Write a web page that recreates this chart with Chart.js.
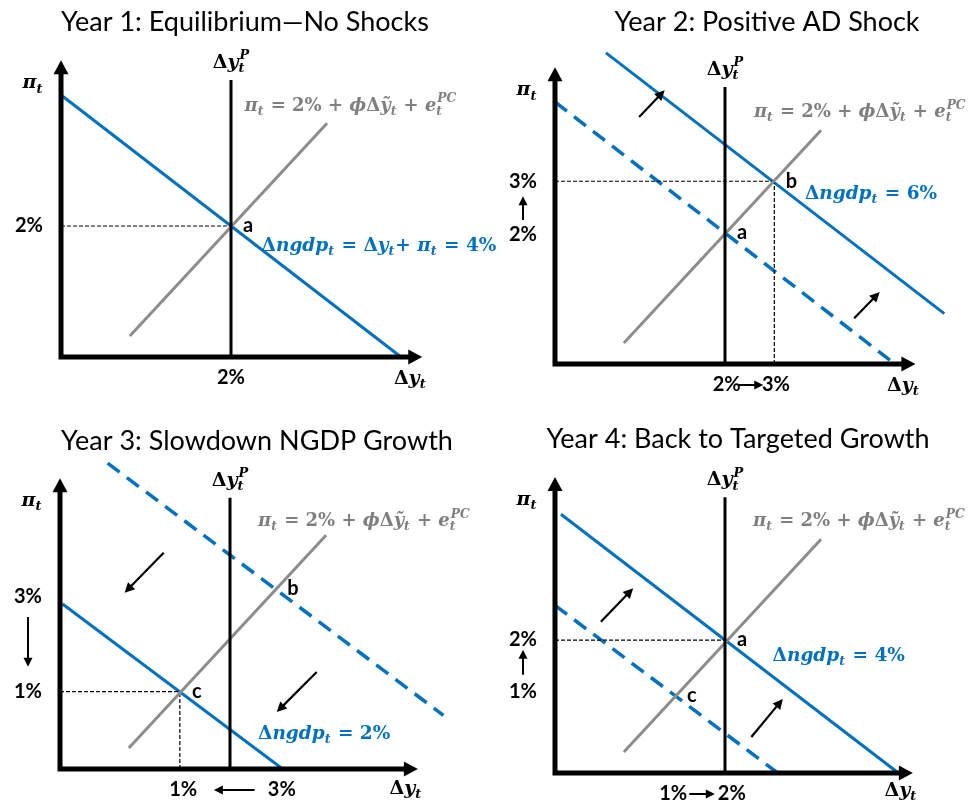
<!DOCTYPE html>
<html>
<head>
<meta charset="utf-8">
<script src="https://cdn.jsdelivr.net/npm/chart.js@4.4.0/dist/chart.umd.min.js"></script>
<style>
  body { margin: 0; background: #fff; }
  #wrap { position: relative; width: 971px; height: 803px; overflow: hidden; }
  canvas { position: absolute; left: 0; top: 0; }
</style>
</head>
<body>
<div id="wrap">
  <canvas id="c1" width="971" height="803"></canvas>
  <canvas id="c2" width="971" height="803"></canvas>
  <canvas id="c3" width="971" height="803"></canvas>
  <canvas id="c4" width="971" height="803"></canvas>
</div>
<script>
// ---- data (x = output growth, y = inflation, in diagram units) ----
const potentialGrowth = 2;
const pcCurve = [[0.81, 0.32], [3.13, 3.57]];
const adYear1 = [[0, 4], [4, 0]];
const adYear2 = [[0.6, 4.75], [4.58, 0.77]];
const adYear2Old = [[0, 4], [3.94, 0.06]];
const adYear3 = [[0.03, 2.52], [2.62, 0]];
const adYear3Old = [[0.56, 4.67], [4.51, 0.82]];
const adYear4 = [[0.07, 3.95], [4.04, 0]];
const adYear4Old = [[0, 2.56], [2.62, 0]];

// equilibrium points: label, x, y
const eqYear1 = [['a', 2, 2]];
const eqYear2 = [['a', 2, 2], ['b', 2.58, 2.79]];
const eqYear3 = [['b', 2.54, 2.75], ['c', 1.41, 1.18]];
const eqYear4 = [['a', 2, 2.03], ['c', 1.41, 1.18]];

// shift arrows: x1, y1, x2, y2
const shiftYear2 = [[0.99, 3.77, 1.29, 4.18], [3.52, 0.70, 3.82, 1.10]];
const shiftYear3 = [[1.22, 3.30, 0.76, 2.69], [3.02, 1.48, 2.55, 0.87]];
const shiftYear4 = [[0.54, 2.31, 0.92, 2.82], [2.31, 0.55, 2.68, 1.13]];

// tick labels: value, text
const yTicksYear1 = [[2, '2%']];
const xTicksYear1 = [[2, '2%']];
const yTicksYear2 = [[2.79, '3%'], [1.98, '2%']];
const xTicksYear2 = [[2.02, '2%'], [2.6, '3%']];
const yTicksYear3 = [[2.63, '3%'], [1.18, '1%']];
const xTicksYear3 = [[1.45, '1%'], [2.61, '3%']];
const yTicksYear4 = [[2.03, '2%'], [1.24, '1%']];
const xTicksYear4 = [[1.39, '1%'], [2.08, '2%']];

const titles = ['Year 1: Equilibrium\u2014No Shocks', 'Year 2: Positive AD Shock',
                'Year 3: Slowdown NGDP Growth', 'Year 4: Back to Targeted Growth'];

// math labels as [text, kind]: r roman, i italic, s subscript, x sub|sup stacked
const pcLabel = [['\u03c0', 'i'], ['t', 's'], [' = 2% + ', 'r'], ['\u03d5', 'i'], ['\u0394', 'r'], ['\u1ef9', 'i'], ['t', 's'], [' + ', 'r'], ['e', 'i'], ['t|PC', 'x']];
const potLabel = [['\u0394', 'r'], ['y', 'i'], ['t|P', 'x']];
const piLabel = [['\u03c0', 'i'], ['t', 's']];
const dyLabel = [['\u0394', 'r'], ['y', 'i'], ['t', 's']];
const ngdpLabel1 = [['\u0394', 'r'], ['ngdp', 'i'], ['t', 's'], [' = ', 'r'], ['\u0394', 'r'], ['y', 'i'], ['t', 's'], ['+ ', 'r'], ['\u03c0', 'i'], ['t', 's'], [' = 4%', 'r']];
const ngdpLabel2 = [['\u0394', 'r'], ['ngdp', 'i'], ['t', 's'], [' = 6%', 'r']];
const ngdpLabel3 = [['\u0394', 'r'], ['ngdp', 'i'], ['t', 's'], [' = 2%', 'r']];
const ngdpLabel4 = [['\u0394', 'r'], ['ngdp', 'i'], ['t', 's'], [' = 4%', 'r']];

// ---- styling ----
const BLUE = '#0070C0';
const GRAY = '#8c8c8c';
const GRAY_TEXT = '#7f7f7f';
const MATH_FONT = '"DejaVu Serif", "Liberation Serif", serif';
const SANS_FONT = 'Lato, "Open Sans", sans-serif';
const UX = 85, UY = 65.5;

const toPts = arr => arr.map(([x, y]) => ({ x, y }));

function lineSet(pts, color, width, dash) {
  return {
    data: toPts(pts), showLine: true, borderColor: color, borderWidth: width,
    borderDash: dash || [], pointRadius: 0, fill: false, tension: 0, borderCapStyle: 'butt'
  };
}

function drawRich(ctx, segs, x, y, size, color, align) {
  const base = y + size * 0.32;
  const parts = segs.map(([t, k]) => {
    let w;
    if (k === 'r') { ctx.font = `bold ${size}px ${MATH_FONT}`; w = ctx.measureText(t).width; }
    else if (k === 'i') { ctx.font = `italic bold ${size}px ${MATH_FONT}`; w = ctx.measureText(t).width; }
    else {
      ctx.font = `italic bold ${size * 0.68}px ${MATH_FONT}`;
      w = Math.max(...t.split('|').map(s => ctx.measureText(s).width)) + 1;
    }
    return { t, k, w };
  });
  const total = parts.reduce((s, p) => s + p.w, 0);
  let cx = align === 'center' ? x - total / 2 : (align === 'right' ? x - total : x);
  ctx.fillStyle = color;
  ctx.textAlign = 'left';
  ctx.textBaseline = 'alphabetic';
  parts.forEach(p => {
    if (p.k === 'r') { ctx.font = `bold ${size}px ${MATH_FONT}`; ctx.fillText(p.t, cx, base); }
    else if (p.k === 'i') { ctx.font = `italic bold ${size}px ${MATH_FONT}`; ctx.fillText(p.t, cx, base); }
    else if (p.k === 's') { ctx.font = `italic bold ${size * 0.68}px ${MATH_FONT}`; ctx.fillText(p.t, cx, base + size * 0.22); }
    else {
      const [sub, sup] = p.t.split('|');
      ctx.font = `italic bold ${size * 0.68}px ${MATH_FONT}`;
      ctx.fillText(sub, cx, base + size * 0.22);
      ctx.fillText(sup, cx + 1, base - size * 0.45);
    }
    cx += p.w;
  });
}

function arrow(ctx, x1, y1, x2, y2, width, head) {
  const a = Math.atan2(y2 - y1, x2 - x1);
  ctx.strokeStyle = '#000';
  ctx.fillStyle = '#000';
  ctx.lineWidth = width;
  ctx.setLineDash([]);
  ctx.beginPath();
  ctx.moveTo(x1, y1);
  ctx.lineTo(x2 - Math.cos(a) * head * 0.8, y2 - Math.sin(a) * head * 0.8);
  ctx.stroke();
  ctx.beginPath();
  ctx.moveTo(x2, y2);
  ctx.lineTo(x2 - Math.cos(a) * head + Math.sin(a) * head * 0.5, y2 - Math.sin(a) * head - Math.cos(a) * head * 0.5);
  ctx.lineTo(x2 - Math.cos(a) * head - Math.sin(a) * head * 0.5, y2 - Math.sin(a) * head + Math.cos(a) * head * 0.5);
  ctx.closePath();
  ctx.fill();
}

function sans(ctx, text, x, y, size) {
  ctx.font = `bold ${size}px ${SANS_FONT}`;
  ctx.fillStyle = '#000';
  ctx.textAlign = 'center';
  ctx.textBaseline = 'middle';
  ctx.fillText(text, x, y);
}

function makePanel(id, p) {
  const datasets = [
    lineSet([[potentialGrowth, 0], [potentialGrowth, p.potTop]], '#000', 3),
    lineSet(pcCurve, GRAY, 3),
  ];
  p.guides.forEach(([gx, gy, dir]) => {
    if (dir.includes('h')) datasets.push(lineSet([[0, gy], [gx, gy]], '#000', 1.2, [4, 2]));
    if (dir.includes('v')) datasets.push(lineSet([[gx, 0], [gx, gy]], '#000', 1.2, [4, 2]));
  });
  if (p.oldAD) datasets.push(lineSet(p.oldAD, BLUE, 3.5, [15, 9]));
  datasets.push(lineSet(p.ad, BLUE, 3));

  const overlay = {
    id: 'overlay' + id,
    afterDatasetsDraw(chart) {
      const ctx = chart.ctx;
      const X = v => chart.scales.x.getPixelForValue(v);
      const Y = v => chart.scales.y.getPixelForValue(v);
      ctx.save();
      // axes
      ctx.strokeStyle = '#000';
      ctx.fillStyle = '#000';
      ctx.lineWidth = 5;
      ctx.setLineDash([]);
      ctx.beginPath();
      ctx.moveTo(X(0), Y(0) + 2.5);
      ctx.lineTo(X(0), Y(p.yTop) + 10);
      ctx.moveTo(X(0) - 2.5, Y(0));
      ctx.lineTo(X(p.xRight) - 10, Y(0));
      ctx.stroke();
      ctx.beginPath();
      ctx.moveTo(X(0), Y(p.yTop));
      ctx.lineTo(X(0) - 7.5, Y(p.yTop) + 14);
      ctx.lineTo(X(0) + 7.5, Y(p.yTop) + 14);
      ctx.closePath();
      ctx.fill();
      ctx.beginPath();
      ctx.moveTo(X(p.xRight), Y(0));
      ctx.lineTo(X(p.xRight) - 14, Y(0) - 7.5);
      ctx.lineTo(X(p.xRight) - 14, Y(0) + 7.5);
      ctx.closePath();
      ctx.fill();

      // title
      ctx.font = `27px ${SANS_FONT}`;
      ctx.fillStyle = '#000';
      ctx.textAlign = 'center';
      ctx.textBaseline = 'alphabetic';
      ctx.fillText(p.title, p.titleX, p.titleY);

      // shift arrows
      p.shifts.forEach(([x1, y1, x2, y2]) => arrow(ctx, X(x1), Y(y1), X(x2), Y(y2), 2.2, 10));

      // equilibrium labels
      p.eq.forEach(([t, ex, ey]) => sans(ctx, t, X(ex) + 17, Y(ey), 20));

      // ticks
      p.yTicks.forEach(([v, t]) => sans(ctx, t, X(0) - 32, Y(v), 20));
      p.xTicks.forEach(([v, t]) => sans(ctx, t, X(v), Y(0) + 21, 20));
      if (p.yArrow) arrow(ctx, X(0) - 32, Y(p.yArrow[0]), X(0) - 32, Y(p.yArrow[1]), 2, 9);
      if (p.xArrow) arrow(ctx, X(p.xArrow[0]), Y(0) + 21, X(p.xArrow[1]), Y(0) + 21, 2, 9);

      // math labels
      drawRich(ctx, potLabel, X(potentialGrowth), Y(p.potTop) - 18, 19, '#000', 'center');
      drawRich(ctx, piLabel, X(0) - 28, Y(p.yTop) + 22, 19, '#000', 'center');
      drawRich(ctx, dyLabel, X(p.xRight) - 12, Y(0) + p.dyOff, 19, '#000', 'center');
      drawRich(ctx, pcLabel, X(p.pcPos[0]), Y(p.pcPos[1]), 18, GRAY_TEXT, 'left');
      drawRich(ctx, p.ngdp, X(p.ngdpPos[0]), Y(p.ngdpPos[1]), 18.5, BLUE, 'left');
      ctx.restore();
    }
  };

  return new Chart(document.getElementById(id), {
    type: 'scatter',
    data: { datasets },
    options: {
      responsive: false,
      animation: false,
      events: [],
      layout: { padding: 0 },
      plugins: { legend: { display: false }, tooltip: { enabled: false } },
      scales: {
        x: { type: 'linear', display: false, min: -p.ox / UX, max: (971 - p.ox) / UX },
        y: { type: 'linear', display: false, min: -(803 - p.oy) / UY, max: p.oy / UY }
      }
    },
    plugins: [overlay]
  });
}

makePanel('c1', {
  ox: 61, oy: 357, yTop: 4.53, xRight: 4.25, potTop: 4.23, dyOff: 21,
  title: titles[0], titleX: 245, titleY: 31,
  ad: adYear1, oldAD: null, eq: eqYear1, shifts: [],
  guides: [[2, 2, 'h']],
  yTicks: yTicksYear1, xTicks: xTicksYear1,
  pcPos: [2.16, 3.85], ngdp: ngdpLabel1, ngdpPos: [2.36, 1.71]
});
makePanel('c2', {
  ox: 555, oy: 364, yTop: 4.53, xRight: 4.24, potTop: 4.23, dyOff: 21,
  title: titles[1], titleX: 767, titleY: 31,
  ad: adYear2, oldAD: adYear2Old, eq: eqYear2, shifts: shiftYear2,
  guides: [[2.58, 2.79, 'hv']],
  yTicks: yTicksYear2, xTicks: xTicksYear2, yArrow: [2.2, 2.56], xArrow: [2.15, 2.45],
  pcPos: [2.34, 3.86], ngdp: ngdpLabel2, ngdpPos: [2.94, 2.61]
});
makePanel('c3', {
  ox: 60, oy: 769, yTop: 4.44, xRight: 4.21, potTop: 4.14, dyOff: 19,
  title: titles[2], titleX: 257, titleY: 450,
  ad: adYear3, oldAD: adYear3Old, eq: eqYear3, shifts: shiftYear3,
  guides: [[1.41, 1.18, 'hv']],
  yTicks: yTicksYear3, xTicks: xTicksYear3, yArrow: [2.32, 1.56], xArrow: [2.29, 1.81],
  pcPos: [2.33, 3.80], ngdp: ngdpLabel3, ngdpPos: [2.33, 0.55]
});
makePanel('c4', {
  ox: 555, oy: 773, yTop: 4.52, xRight: 4.21, potTop: 4.21, dyOff: 17,
  title: titles[3], titleX: 738, titleY: 448,
  ad: adYear4, oldAD: adYear4Old, eq: eqYear4, shifts: shiftYear4,
  guides: [[2, 2.03, 'h']],
  yTicks: yTicksYear4, xTicks: xTicksYear4, yArrow: [1.5, 1.88], xArrow: [1.58, 1.88],
  pcPos: [2.33, 3.86], ngdp: ngdpLabel4, ngdpPos: [2.56, 1.80]
});
</script>
</body>
</html>
